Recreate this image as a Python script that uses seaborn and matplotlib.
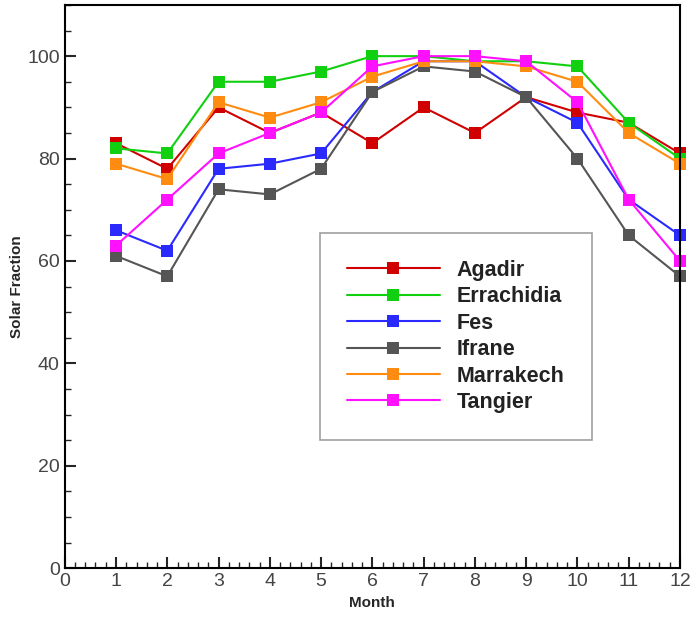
import matplotlib
matplotlib.use("Agg")
import matplotlib.pyplot as plt
import seaborn as sns
import pandas as pd
from matplotlib.ticker import MultipleLocator

months = list(range(1, 13))
cities = ["Agadir", "Errachidia", "Fes", "Ifrane", "Marrakech", "Tangier"]
agadir = [83, 78, 90, 85, 89, 83, 90, 85, 92, 89, 87, 81]
errachidia = [82, 81, 95, 95, 97, 100, 100, 99, 99, 98, 87, 80]
fes = [66, 62, 78, 79, 81, 93, 99, 99, 92, 87, 72, 65]
ifrane = [61, 57, 74, 73, 78, 93, 98, 97, 92, 80, 65, 57]
marrakech = [79, 76, 91, 88, 91, 96, 99, 99, 98, 95, 85, 79]
tangier = [63, 72, 81, 85, 89, 98, 100, 100, 99, 91, 72, 60]
series = [agadir, errachidia, fes, ifrane, marrakech, tangier]
colors = ["#d00000", "#10d010", "#2a2aff", "#555555", "#ff8c10", "#ff10ff"]

rows = []
for c, vals in zip(cities, series):
    for m, v in zip(months, vals):
        rows.append({"Month": m, "Solar Fraction": v, "City": c})
df = pd.DataFrame(rows)

sns.set_style("white")
plt.rcParams['font.family'] = ['Liberation Sans', 'DejaVu Sans']

fig = plt.figure(figsize=(6.96, 6.17), dpi=100)
ax = fig.add_axes([0.093, 0.079, 0.884, 0.913])

sns.lineplot(data=df, x="Month", y="Solar Fraction", hue="City",
             hue_order=cities, palette=colors, marker="s", markersize=9,
             markeredgewidth=0, linewidth=1.5, dashes=False, ax=ax)
for ln in ax.get_lines():
    ln.set_clip_on(False)

ax.set_xlim(0, 12)
ax.set_ylim(0, 110)
ax.xaxis.set_major_locator(MultipleLocator(1))
ax.xaxis.set_minor_locator(MultipleLocator(0.2))
ax.yaxis.set_major_locator(MultipleLocator(20))
ax.yaxis.set_minor_locator(MultipleLocator(5))
ax.tick_params(axis="both", which="major", direction="in", length=8, width=1.5,
               labelsize=14, labelcolor="#444444", bottom=True, left=True, top=False, right=False)
ax.tick_params(axis="both", which="minor", direction="in", length=4, width=1,
               bottom=True, left=True, top=False, right=False)
for s in ax.spines.values():
    s.set_color("black")
    s.set_linewidth(1.5)

ax.set_xlabel("Month", fontsize=11, fontweight="bold", labelpad=4)
ax.set_ylabel("Solar Fraction", fontsize=11, fontweight="bold", labelpad=2)

leg = ax.legend(loc="upper left", bbox_to_anchor=(0.415, 0.595), frameon=True,
                fancybox=False, fontsize=15.5, handlelength=4.3, borderpad=1.25,
                labelspacing=0.25, handletextpad=0.8, borderaxespad=0)
leg.get_frame().set_edgecolor("#888888")
leg.get_frame().set_linewidth(1.2)
for t in leg.get_texts():
    t.set_fontweight("bold")
    t.set_color("#222222")

fig.savefig("out.png", dpi=100)
